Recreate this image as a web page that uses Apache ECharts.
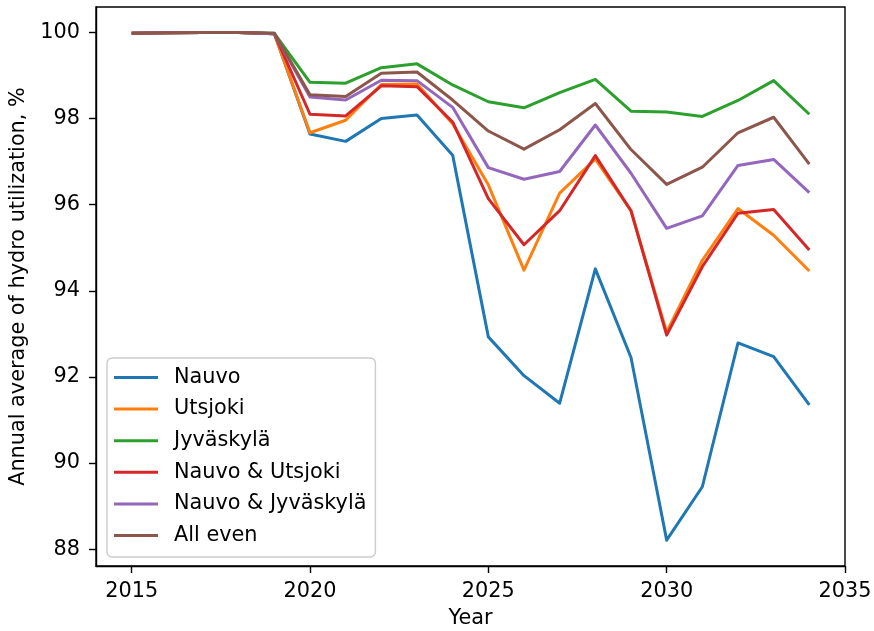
<!DOCTYPE html>
<html>
<head>
<meta charset="utf-8">
<script src="https://cdn.jsdelivr.net/npm/echarts@6/dist/echarts.min.js"></script>
<style>
html,body{margin:0;padding:0;background:#fff;}
#chart{width:874px;height:631px;}
</style>
</head>
<body>
<div id="chart"></div>
<script>
const years = [2015,2016,2017,2018,2019,2020,2021,2022,2023,2024,2025,2026,2027,2028,2029,2030,2031,2032,2033,2034];
const seriesNames = ["Nauvo","Utsjoki","Jyväskylä","Nauvo & Utsjoki","Nauvo & Jyväskylä","All even"];
const nauvo      = [99.98,99.99,100.0,100.0,99.97,97.64,97.47,98.00,98.08,97.15,92.93,92.03,91.39,94.51,92.45,88.21,89.45,92.79,92.47,91.35];
const utsjoki    = [99.98,99.99,100.0,100.0,99.97,97.67,97.96,98.79,98.80,97.88,96.46,94.48,96.27,97.06,95.86,93.04,94.71,95.91,95.29,94.46];
const jyvaskyla  = [99.98,99.99,100.0,100.0,99.98,98.84,98.82,99.18,99.27,98.78,98.39,98.25,98.60,98.91,98.17,98.15,98.05,98.42,98.88,98.10];
const nauvoUts   = [99.98,99.99,100.0,100.0,99.97,98.10,98.06,98.76,98.74,97.92,96.14,95.07,95.86,97.14,95.86,92.97,94.56,95.80,95.89,94.95];
const nauvoJyv   = [99.98,99.99,100.0,100.0,99.97,98.50,98.43,98.89,98.88,98.26,96.86,96.59,96.77,97.85,96.73,95.45,95.74,96.91,97.05,96.28];
const allEven    = [99.98,99.99,100.0,100.0,99.98,98.55,98.51,99.05,99.08,98.43,97.71,97.29,97.74,98.35,97.28,96.47,96.87,97.67,98.03,96.94];
const xTicks = [2015,2020,2025,2030,2035];
const yTicks = [88,90,92,94,96,98,100];
const colors = ["#1f77b4","#ff7f0e","#2ca02c","#d62728","#9467bd","#8c564b"];
const allData = [nauvo,utsjoki,jyvaskyla,nauvoUts,nauvoJyv,allEven];

const font = "DejaVu Sans";
const fs = 20.8;
const chart = echarts.init(document.getElementById('chart'), null, {renderer:'canvas'});
chart.setOption({
  animation:false,
  backgroundColor:'#fff',
  color:colors,
  grid:{left:96,right:29,top:7,bottom:65,containLabel:false,outerBoundsMode:'none',show:true,borderColor:'#000',borderWidth:1.4,backgroundColor:'transparent'},
  xAxis:{
    type:'value',min:2014,max:2035,
    name:'Year',nameLocation:'middle',nameGap:42,
    nameTextStyle:{fontFamily:font,fontSize:fs,color:'#000'},
    axisLine:{show:true,lineStyle:{color:'#000',width:1.4}},
    axisTick:{show:true,length:7,lineStyle:{color:'#000',width:1.4},customValues:xTicks},
    axisLabel:{fontFamily:font,fontSize:fs,color:'#000',margin:15,customValues:xTicks,formatter:v=>String(v)},
    splitLine:{show:false}
  },
  yAxis:{
    type:'value',min:87.61,max:100.59,
    name:'Annual average of hydro utilization, %',nameLocation:'middle',nameGap:62,nameRotate:90,
    nameTextStyle:{fontFamily:font,fontSize:fs,color:'#000'},
    axisLine:{show:true,lineStyle:{color:'#000',width:1.4}},
    axisTick:{show:true,length:7,lineStyle:{color:'#000',width:1.4},customValues:yTicks},
    axisLabel:{fontFamily:font,fontSize:fs,color:'#000',margin:16,customValues:yTicks,formatter:v=>String(v)},
    splitLine:{show:false}
  },
  legend:{
    orient:'vertical',left:107,top:358,
    icon:'rect',itemWidth:44,itemHeight:3,itemGap:10.6,
    padding:[9,9,11,7],
    backgroundColor:'rgba(255,255,255,0.8)',borderColor:'#cccccc',borderWidth:1.4,borderRadius:5,
    textStyle:{fontFamily:font,fontSize:fs,color:'#000',lineHeight:20,padding:[0,0,0,11]},
    data:seriesNames
  },
  series:seriesNames.map((n,i)=>({
    name:n,type:'line',showSymbol:false,symbol:'none',
    data:years.map((y,j)=>[y,allData[i][j]]),
    lineStyle:{width:3,color:colors[i],join:'round'},
    itemStyle:{color:colors[i]},
    emphasis:{disabled:true}
  }))
});
</script>
</body>
</html>
